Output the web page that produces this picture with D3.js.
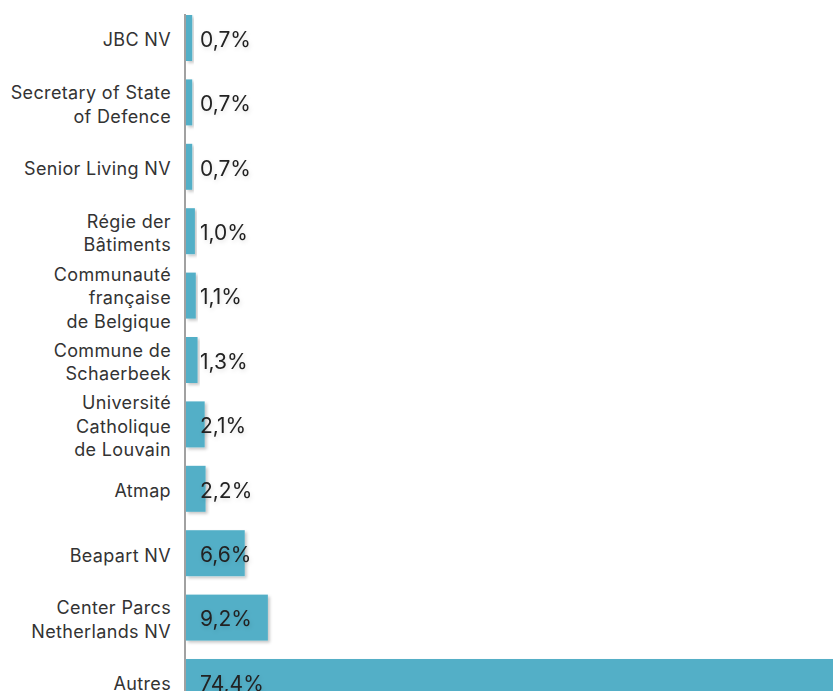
<!DOCTYPE html>
<html>
<head>
<meta charset="utf-8">
<script src="https://cdn.jsdelivr.net/npm/d3@7"></script>
<style>
  html, body { margin: 0; padding: 0; background: #fff; overflow: hidden; }
  svg { display: block; }
</style>
</head>
<body>
<svg id="chart" width="833" height="691"></svg>
<script>
const categories = [
  "JBC NV",
  "Secretary of State\nof Defence",
  "Senior Living NV",
  "Régie der\nBâtiments",
  "Communauté\nfrançaise\nde Belgique",
  "Commune de\nSchaerbeek",
  "Université\nCatholique\nde Louvain",
  "Atmap",
  "Beapart NV",
  "Center Parcs\nNetherlands NV",
  "Autres"
];
const values = [0.7, 0.7, 0.7, 1.0, 1.1, 1.3, 2.1, 2.2, 6.6, 9.2, 74.4];

const svg = d3.select("#chart");
const defs = svg.append("defs");
const f = defs.append("filter").attr("id", "shadow").attr("x", "-10%").attr("y", "-10%").attr("width", "130%").attr("height", "130%");
f.append("feDropShadow").attr("dx", 2).attr("dy", 2).attr("stdDeviation", 1.5).attr("flood-color", "#000").attr("flood-opacity", 0.22);
const ft = defs.append("filter").attr("id", "tshadow").attr("x", "-20%").attr("y", "-30%").attr("width", "150%").attr("height", "180%");
ft.append("feDropShadow").attr("dx", 1).attr("dy", 2).attr("stdDeviation", 2).attr("flood-color", "#000").attr("flood-opacity", 0.12);

const axisX = 185;
const x = d3.scaleLinear().domain([0, 74.4]).range([0, 662]);
const y = d3.scaleBand().domain(categories).range([15, 705]).paddingInner(0.286).paddingOuter(0);

const data = categories.map((c, i) => ({ c, v: values[i] }));

svg.append("g").selectAll("rect").data(data).join("rect")
  .attr("x", axisX + 1)
  .attr("y", d => y(d.c))
  .attr("width", d => x(d.v))
  .attr("height", y.bandwidth())
  .attr("fill", "#52afc7")
  .attr("filter", "url(#shadow)");

svg.append("line")
  .attr("x1", axisX).attr("x2", axisX)
  .attr("y1", 14).attr("y2", 691)
  .attr("stroke", "#8a8a8a").attr("stroke-width", 1.6);

const fmt = v => d3.format(".1f")(v).replace(".", ",") + "%";

svg.append("g").selectAll("text").data(data).join("text")
  .attr("x", axisX + 15)
  .attr("y", d => y(d.c) + y.bandwidth() / 2 + 3)
  .attr("dominant-baseline", "middle")
  .attr("font-family", "Inter, 'Open Sans', sans-serif")
  .attr("font-size", 21)
  .attr("font-weight", 400)
  .attr("fill", "#222")
  .attr("filter", "url(#tshadow)")
  .text(d => fmt(d.v));

const lineH = 23.5;
const lab = svg.append("g").selectAll("text").data(data).join("text")
  .attr("text-anchor", "end")
  .attr("font-family", "Inter, 'Open Sans', sans-serif")
  .attr("font-size", 18)
  .attr("letter-spacing", 0.35)
  .attr("fill", "#333")
  .attr("transform", d => {
    const n = d.c.split("\n").length;
    const cy = y(d.c) + y.bandwidth() / 2 + 3.5 - (n - 1) * lineH / 2;
    return `translate(171,${cy})`;
  });
lab.selectAll("tspan").data(d => d.c.split("\n")).join("tspan")
  .attr("x", 0)
  .attr("y", (d, i) => i * lineH)
  .attr("dominant-baseline", "middle")
  .text(d => d);
</script>
</body>
</html>
